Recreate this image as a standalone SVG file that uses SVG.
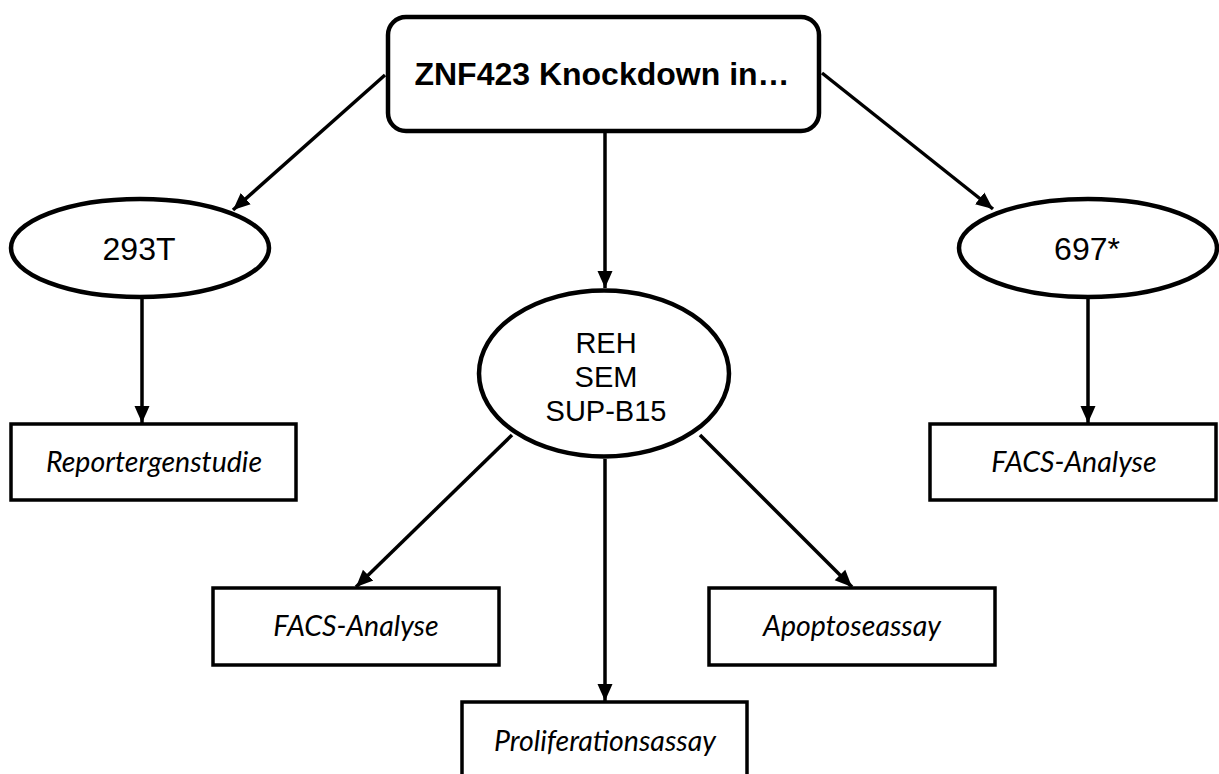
<svg xmlns="http://www.w3.org/2000/svg" width="1219" height="774" viewBox="0 0 1219 774">
<defs>
<marker id="arr" markerUnits="userSpaceOnUse" markerWidth="17" markerHeight="17" viewBox="0 0 17 17" refX="17" refY="8.5" orient="auto">
<path d="M0,1 L17,8.5 L0,16 Z" fill="#000"/>
</marker>
<style>
.bg{fill:#fff}
.ell{fill:#fff;stroke:#000;stroke-width:4.5}
.box{fill:#fff;stroke:#000;stroke-width:3.5}
.conn line{stroke:#000;stroke-width:3.5;marker-end:url(#arr)}
.sans{font-family:"Liberation Sans",Arial,sans-serif;fill:#000;text-anchor:middle}
.it{font-family:Lato,"Open Sans",sans-serif;font-style:italic;fill:#000;text-anchor:middle;font-size:28.5px}
</style>
</defs>
<rect class="bg" x="0" y="0" width="1219" height="774"/>
<g id="connectors" class="conn">
<line x1="385" y1="75" x2="233" y2="210"/>
<line x1="822" y1="73" x2="993" y2="209"/>
<line x1="605" y1="133" x2="605" y2="288"/>
<line x1="142" y1="299" x2="142" y2="423"/>
<line x1="1088" y1="299" x2="1088" y2="423"/>
<line x1="512" y1="435" x2="356" y2="587"/>
<line x1="605" y1="459" x2="605" y2="701"/>
<line x1="700" y1="435" x2="852" y2="587"/>
</g>
<g id="top">
<rect x="388" y="17" width="431" height="114" rx="18" ry="18" fill="#fff" stroke="#000" stroke-width="4.5"/>
<text class="sans" x="602" y="85" font-size="32" font-weight="bold">ZNF423 Knockdown in…</text>
</g>
<g id="n293T">
<ellipse class="ell" cx="140" cy="248" rx="129" ry="49"/>
<text class="sans" x="139" y="260" font-size="32">293T</text>
</g>
<g id="n697">
<ellipse class="ell" cx="1088" cy="248" rx="129" ry="49"/>
<text class="sans" x="1087" y="260" font-size="32">697*</text>
</g>
<g id="center">
<ellipse class="ell" cx="604" cy="373.5" rx="125" ry="83"/>
<text class="sans" x="606" y="353" font-size="29">REH</text>
<text class="sans" x="606" y="387" font-size="29">SEM</text>
<text class="sans" x="606" y="421" font-size="29">SUP-B15</text>
</g>
<g id="reporter">
<rect class="box" x="11" y="424" width="285" height="76"/>
<text class="it" x="154" y="472">Reportergenstudie</text>
</g>
<g id="facsRight">
<rect class="box" x="930" y="424" width="286" height="76"/>
<text class="it" x="1074" y="472">FACS-Analyse</text>
</g>
<g id="facsLeft">
<rect class="box" x="213" y="588" width="286" height="77"/>
<text class="it" x="356" y="636">FACS-Analyse</text>
</g>
<g id="apoptose">
<rect class="box" x="709" y="588" width="286" height="77"/>
<text class="it" x="852" y="636">Apoptoseassay</text>
</g>
<g id="prolif">
<rect class="box" x="462" y="702" width="285" height="78"/>
<text class="it" x="605" y="751">Proliferationsassay</text>
</g>
</svg>
